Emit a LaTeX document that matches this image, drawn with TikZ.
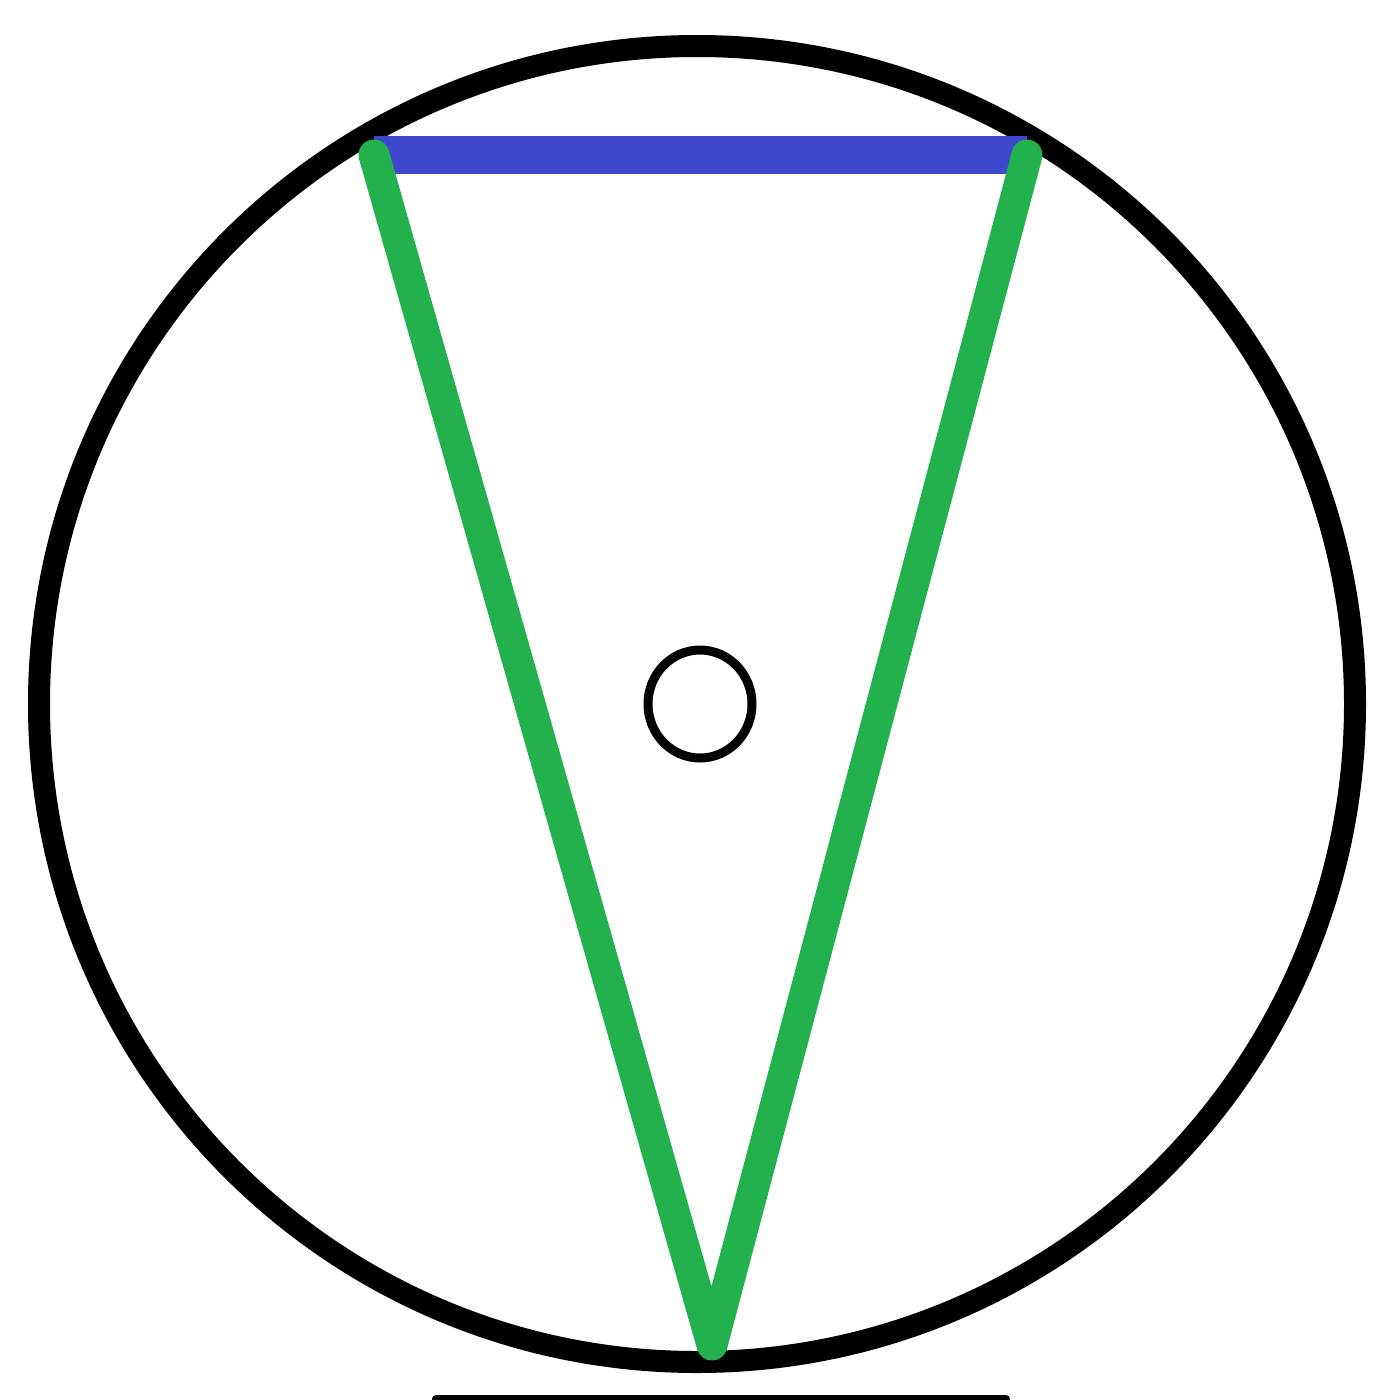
\documentclass[tikz,border=0pt]{standalone}
\definecolor{paintblue}{RGB}{63,72,204}
\definecolor{paintgreen}{RGB}{34,177,76}
\tikzset{
  bigcirc/.style={draw=black,line width=22pt},
  smallcirc/.style={draw=black,line width=9pt},
  chordline/.style={draw=paintblue,line width=38pt},
  sideline/.style={draw=paintgreen,line width=31pt,line cap=round,line join=round},
  baseline/.style={draw=black,line width=8pt,line cap=round}
}
\begin{document}
\begin{tikzpicture}[x=1pt,y=-1pt]
\useasboundingbox (0,0) rectangle (1400,1400);
\fill[white] (0,0) rectangle (1400,1400);
\coordinate (O) at (697,704);
\coordinate (A) at (374,155);
\coordinate (B) at (1027,155);
\coordinate (C) at (712,1345);
\coordinate (BL) at (436,1399);
\coordinate (BR) at (1006,1399);
\draw[bigcirc] (O) circle[radius=658];
\draw[smallcirc] (700,704) ellipse[x radius=52,y radius=54];
\draw[chordline] (A) -- (B);
\draw[sideline] (A) -- (C) -- (B);
\draw[baseline] (BL) -- (BR);
\end{tikzpicture}
\end{document}
